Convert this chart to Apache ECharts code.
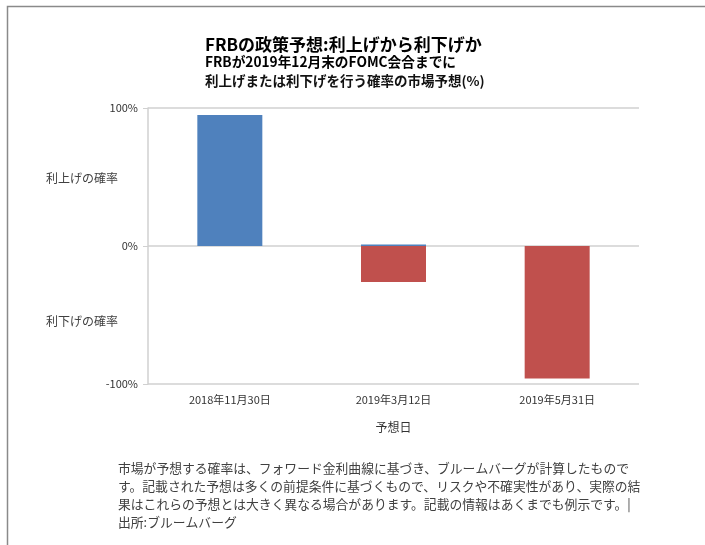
<!DOCTYPE html>
<html><head><meta charset="utf-8">
<script src="https://cdn.jsdelivr.net/npm/echarts@6/dist/echarts.min.js"></script>
<style>html,body{margin:0;padding:0;background:#fff}#c{width:705px;height:545px}</style>
</head><body><div id="c"></div>
<script>
const categories = ['2018年11月30日', '2019年3月12日', '2019年5月31日'];
const hikeProb = [95, 1, 0];
const cutProb = [0, -26, -96];
const yTicks = [-100, 0, 100];
const FONT = '"Noto Sans CJK JP", "Noto Sans", sans-serif';

const chart = echarts.init(document.getElementById('c'), null, {renderer: 'canvas'});
chart.setOption({
  animation: false,
  backgroundColor: '#fff',
  textStyle: {fontFamily: FONT},
  grid: {left: 148, right: 66, top: 108, bottom: 161},
  xAxis: {
    type: 'category', data: categories,
    axisLine: {show: false, onZero: false},
    axisTick: {show: false},
    axisLabel: {color: '#333', fontSize: 11, margin: 10, fontFamily: FONT},
    name: '予想日', nameLocation: 'middle', nameGap: 37,
    nameTextStyle: {color: '#333', fontSize: 12, fontFamily: FONT}
  },
  yAxis: {
    type: 'value', min: -100, max: 100, interval: 100,
    axisLine: {show: true, lineStyle: {color: '#d0d0d0', width: 1.5}},
    axisTick: {show: true, length: 5, lineStyle: {color: '#d0d0d0'}},
    axisLabel: {color: '#333', fontSize: 11, margin: 10, formatter: v => v + '%', fontFamily: FONT},
    splitLine: {show: true, lineStyle: {color: '#d0d0d0', width: 1.5}}
  },
  series: [
    {name: '利上げ', type: 'bar', stack: 'p', data: hikeProb, barWidth: 65,
     itemStyle: {color: '#4f81bd'}},
    {name: '利下げ', type: 'bar', stack: 'p', data: cutProb, barWidth: 65,
     itemStyle: {color: '#c0504d'}}
  ],
  graphic: [
    {type: 'rect', shape: {x: 7.5, y: 6.5, width: 800, height: 700},
     style: {fill: 'none', stroke: '#8a8a8a', lineWidth: 1.5}, silent: true},
    {type: 'text', left: 205, top: 36, style: {text: 'FRBの政策予想:利上げから利下げか', fontSize: 17, fontWeight: 'bold', fill: '#000', fontFamily: FONT}},
    {type: 'text', left: 205, top: 55, style: {text: 'FRBが2019年12月末のFOMC会合までに', fontSize: 13.7, fontWeight: 'bold', fill: '#000', fontFamily: FONT}},
    {type: 'text', left: 205, top: 74, style: {text: '利上げまたは利下げを行う確率の市場予想(%)', fontSize: 13.5, fontWeight: 'bold', fill: '#111', fontFamily: FONT}},
    {type: 'text', left: 46, top: 172, style: {text: '利上げの確率', fontSize: 12, fill: '#404040', fontFamily: FONT}},
    {type: 'text', left: 46, top: 315, style: {text: '利下げの確率', fontSize: 12, fill: '#404040', fontFamily: FONT}},
    {type: 'text', left: 118, top: 459, style: {
      text: '市場が予想する確率は、フォワード金利曲線に基づき、ブルームバーグが計算したもので\nす。記載された予想は多くの前提条件に基づくもので、リスクや不確実性があり、実際の結\n果はこれらの予想とは大きく異なる場合があります。記載の情報はあくまでも例示です。|\n出所:ブルームバーグ',
      fontSize: 12.8, lineHeight: 18, fill: '#404040', fontFamily: FONT}}
  ]
});
</script></body></html>
